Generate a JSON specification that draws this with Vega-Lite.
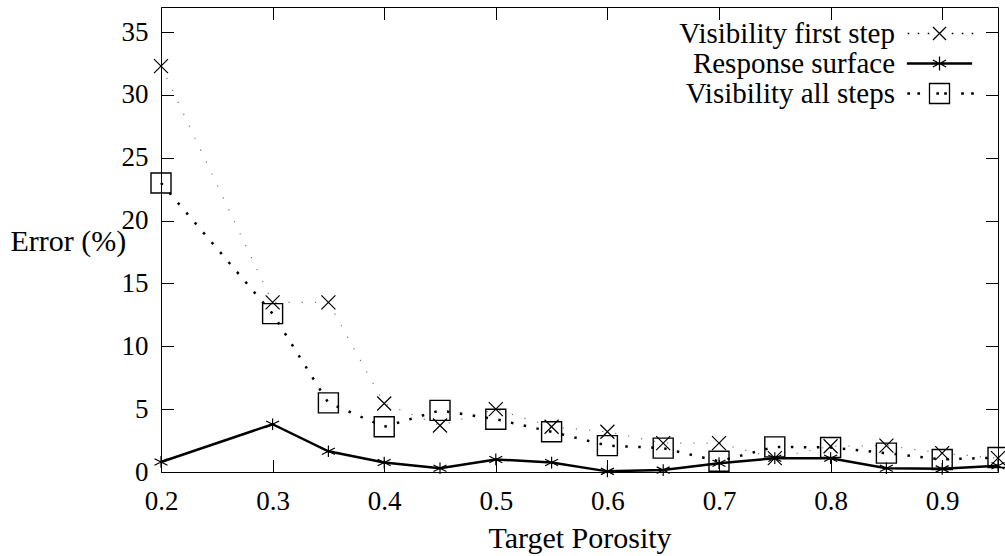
{
  "$schema": "https://vega.github.io/schema/vega-lite/v6.json",
  "width": 837,
  "height": 465,
  "autosize": "none",
  "padding": {"left": 161, "top": 7, "right": 8, "bottom": 84},
  "background": "white",
  "config": {
    "view": {"stroke": "black", "strokeWidth": 1},
    "font": "Liberation Serif"
  },
  "data": {
    "values": [
      {"x": 0.2, "s": "Visibility first step", "y": 32.3},
      {"x": 0.3, "s": "Visibility first step", "y": 13.5},
      {"x": 0.35, "s": "Visibility first step", "y": 13.5},
      {"x": 0.4, "s": "Visibility first step", "y": 5.45},
      {"x": 0.45, "s": "Visibility first step", "y": 3.7},
      {"x": 0.5, "s": "Visibility first step", "y": 5.0},
      {"x": 0.55, "s": "Visibility first step", "y": 3.6},
      {"x": 0.6, "s": "Visibility first step", "y": 3.2},
      {"x": 0.65, "s": "Visibility first step", "y": 2.3},
      {"x": 0.7, "s": "Visibility first step", "y": 2.3},
      {"x": 0.75, "s": "Visibility first step", "y": 1.1},
      {"x": 0.8, "s": "Visibility first step", "y": 2.05},
      {"x": 0.85, "s": "Visibility first step", "y": 2.1},
      {"x": 0.9, "s": "Visibility first step", "y": 1.5},
      {"x": 0.95, "s": "Visibility first step", "y": 1.1},
      {"x": 0.2, "s": "Response surface", "y": 0.8},
      {"x": 0.3, "s": "Response surface", "y": 3.8},
      {"x": 0.35, "s": "Response surface", "y": 1.65},
      {"x": 0.4, "s": "Response surface", "y": 0.75},
      {"x": 0.45, "s": "Response surface", "y": 0.3},
      {"x": 0.5, "s": "Response surface", "y": 1.0},
      {"x": 0.55, "s": "Response surface", "y": 0.75},
      {"x": 0.6, "s": "Response surface", "y": 0.05},
      {"x": 0.65, "s": "Response surface", "y": 0.15},
      {"x": 0.7, "s": "Response surface", "y": 0.7},
      {"x": 0.75, "s": "Response surface", "y": 1.1},
      {"x": 0.8, "s": "Response surface", "y": 1.1},
      {"x": 0.85, "s": "Response surface", "y": 0.3},
      {"x": 0.9, "s": "Response surface", "y": 0.25},
      {"x": 0.95, "s": "Response surface", "y": 0.5},
      {"x": 0.2, "s": "Visibility all steps", "y": 23.0},
      {"x": 0.3, "s": "Visibility all steps", "y": 12.6},
      {"x": 0.35, "s": "Visibility all steps", "y": 5.5},
      {"x": 0.4, "s": "Visibility all steps", "y": 3.6},
      {"x": 0.45, "s": "Visibility all steps", "y": 4.9},
      {"x": 0.5, "s": "Visibility all steps", "y": 4.2},
      {"x": 0.55, "s": "Visibility all steps", "y": 3.2},
      {"x": 0.6, "s": "Visibility all steps", "y": 2.1},
      {"x": 0.65, "s": "Visibility all steps", "y": 1.9},
      {"x": 0.7, "s": "Visibility all steps", "y": 0.85},
      {"x": 0.75, "s": "Visibility all steps", "y": 2.0},
      {"x": 0.8, "s": "Visibility all steps", "y": 1.95},
      {"x": 0.85, "s": "Visibility all steps", "y": 1.5},
      {"x": 0.9, "s": "Visibility all steps", "y": 1.0},
      {"x": 0.95, "s": "Visibility all steps", "y": 1.15}
    ]
  },
  "encoding": {
    "x": {"field": "x", "type": "quantitative", "scale": {"domain": [0.2, 0.95], "nice": false, "zero": false}, "axis": null},
    "y": {"field": "y", "type": "quantitative", "scale": {"domain": [0, 37], "nice": false}, "axis": null}
  },
  "resolve": {"axis": {"x": "independent", "y": "independent"}},
  "layer": [
    {
      "transform": [{"filter": "datum.s === 'Visibility first step'"}],
      "mark": {"type": "line", "color": "#777777", "strokeWidth": 1.2, "strokeDash": [1.2, 12]},
      "encoding": {
        "x": {"field": "x", "type": "quantitative", "scale": {"domain": [0.2, 0.95], "nice": false, "zero": false},
          "axis": {"orient": "bottom", "values": [0.2, 0.3, 0.4, 0.5, 0.6, 0.7, 0.8, 0.9], "format": ".1f", "grid": false, "domain": false,
            "ticks": false, "labelPadding": 16, "labelBaseline": "top", "labelFlush": false, "labelOverlap": false,
            "labelFont": "Liberation Serif", "labelFontSize": 27, "labelColor": "black",
            "title": "Target Porosity", "titleFont": "Liberation Serif", "titleFontSize": 30, "titleFontWeight": "normal", "titleColor": "black",
            "titleY": 75, "titleBaseline": "alphabetic"}},
        "y": {"field": "y", "type": "quantitative", "scale": {"domain": [0, 37], "nice": false},
          "axis": {"orient": "left", "values": [0, 5, 10, 15, 20, 25, 30, 35], "grid": false, "domain": false,
            "ticks": false, "labelPadding": 13, "labelFlush": false, "labelOverlap": false,
            "labelFont": "Liberation Serif", "labelFontSize": 27, "labelColor": "black",
            "title": "Error (%)", "titleFont": "Liberation Serif", "titleFontSize": 30, "titleFontWeight": "normal", "titleColor": "black",
            "titleAngle": 0, "titleAlign": "left", "titleBaseline": "alphabetic", "titleX": -151, "titleY": 243}}
      }
    },
    {
      "transform": [{"filter": "datum.s === 'Visibility first step'"}],
      "mark": {"type": "point", "shape": "M-1,-1L1,1M-1,1L1,-1", "size": 196, "filled": false, "color": "black", "strokeWidth": 1.2, "opacity": 1},
      "encoding": {
        "x": {"field": "x", "type": "quantitative", "scale": {"domain": [0.2, 0.95], "nice": false, "zero": false},
          "axis": {"orient": "bottom", "values": [0.2, 0.3, 0.4, 0.5, 0.6, 0.7, 0.8, 0.9], "grid": false, "domain": false, "labels": false,
            "ticks": true, "tickSize": -12.5, "tickColor": "black", "tickWidth": 1, "title": null}},
        "y": {"field": "y", "type": "quantitative", "scale": {"domain": [0, 37], "nice": false},
          "axis": {"orient": "left", "values": [0, 5, 10, 15, 20, 25, 30, 35], "grid": false, "domain": false, "labels": false,
            "ticks": true, "tickSize": -12.5, "tickColor": "black", "tickWidth": 1, "title": null}}
      }
    },
    {
      "transform": [{"filter": "datum.s === 'Response surface'"}],
      "mark": {"type": "line", "color": "black", "strokeWidth": 2.5},
      "encoding": {
        "x": {"field": "x", "type": "quantitative", "scale": {"domain": [0.2, 0.95], "nice": false, "zero": false},
          "axis": {"orient": "top", "values": [0.2, 0.3, 0.4, 0.5, 0.6, 0.7, 0.8, 0.9], "grid": false, "domain": false, "labels": false,
            "ticks": true, "tickSize": -12.5, "tickColor": "black", "tickWidth": 1, "title": null}},
        "y": {"field": "y", "type": "quantitative", "scale": {"domain": [0, 37], "nice": false},
          "axis": {"orient": "right", "values": [0, 5, 10, 15, 20, 25, 30, 35], "grid": false, "domain": false, "labels": false,
            "ticks": true, "tickSize": -12.5, "tickColor": "black", "tickWidth": 1, "title": null}}
      }
    },
    {
      "transform": [{"filter": "datum.s === 'Response surface'"}],
      "mark": {"type": "point", "shape": "M0,-0.9L0,0.9M-1,-0.5L1,0.5M-1,0.5L1,-0.5", "size": 169, "filled": false, "color": "black", "strokeWidth": 1.2, "opacity": 1}
    },
    {
      "transform": [{"filter": "datum.s === 'Visibility all steps'"}],
      "mark": {"type": "line", "color": "black", "strokeWidth": 2.5, "strokeDash": [2.5, 10.5]}
    },
    {
      "transform": [{"filter": "datum.s === 'Visibility all steps'"}],
      "mark": {"type": "point", "shape": "square", "size": 400, "filled": false, "color": "black", "strokeWidth": 1.4, "opacity": 1}
    },
    {
      "mark": {"type": "point", "filled": false, "color": "black", "opacity": 0},
      "encoding": {
        "shape": {"field": "s", "type": "nominal",
          "scale": {"domain": ["Visibility first step", "Response surface", "Visibility all steps"],
            "range": [
              "M-0.93,-0.93L0.93,0.93M-0.93,0.93L0.93,-0.93M-4.45,-0.02h0.04v0.04h-0.04zM-3.02,-0.02h0.04v0.04h-0.04zM-1.59,-0.02h0.04v0.04h-0.04zM1.84,-0.02h0.04v0.04h-0.04zM3.27,-0.02h0.04v0.04h-0.04zM4.69,-0.02h0.04v0.04h-0.04z",
              "M-4.57,-0.1H4.57V0.1H-4.57ZM0,-1L0,1M-0.95,-0.5L0.95,0.5M-0.95,0.5L0.95,-0.5",
              "M-1.43,-1.43H1.43V1.43H-1.43ZM-4.5,-0.1h0.2v0.2h-0.2zM-3.07,-0.1h0.2v0.2h-0.2zM-0.36,-0.1h0.2v0.2h-0.2zM0.76,-0.1h0.2v0.2h-0.2zM3.19,-0.1h0.2v0.2h-0.2zM4.61,-0.1h0.2v0.2h-0.2z"
            ]},
          "legend": {
            "orient": "none", "legendX": 764, "legendY": 12, "title": null, "padding": 0,
            "symbolSize": 196, "symbolStrokeWidth": 1.3, "symbolStrokeColor": "black", "symbolOpacity": 1,
            "labelFont": "Liberation Serif", "labelFontSize": 29, "labelColor": "black", "labelAlign": "right", "labelOffset": -59, "labelLimit": 0,
            "rowPadding": -12,
            "encode": {"symbols": {"update": {
              "fill": [{"test": "datum.value === 'Visibility all steps'", "value": "transparent"}, {"value": "black"}],
              "opacity": {"value": 1}
            }}}
          }}
      }
    }
  ]
}
